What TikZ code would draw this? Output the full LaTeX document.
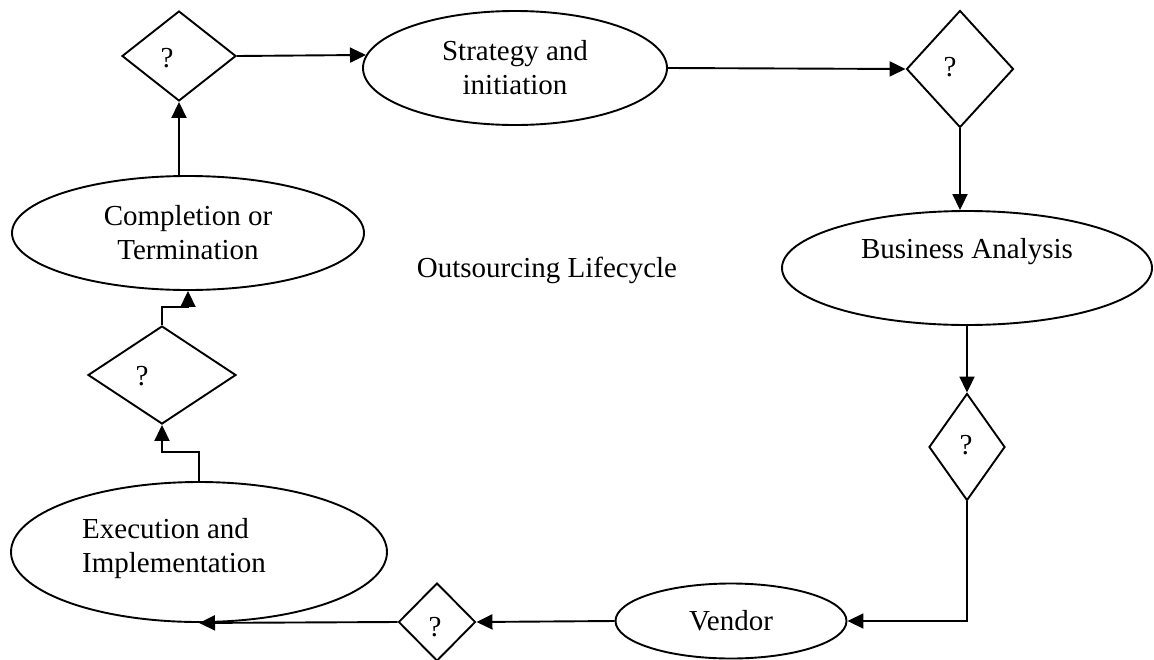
\documentclass[tikz,border=0pt]{standalone}
\usepackage{fontspec}
\setmainfont{Liberation Serif}
\usetikzlibrary{shapes.geometric,arrows.meta,calc}
\begin{document}
\begin{tikzpicture}[x=1pt,y=-1pt,
  every node/.style={font=\fontsize{29}{34}\selectfont},
  ell/.style={draw,ellipse,line width=1.9pt,inner sep=0pt,align=center},
  dia/.style={draw,diamond,line width=1.9pt,inner sep=0pt},
  qmark/.style={inner sep=0pt},
  arr/.style={line width=1.9pt,-{Triangle[length=16pt,width=15pt]}}
]
\useasboundingbox (0,0) rectangle (1154,659);
% ellipses
\node[ell,minimum width=304pt,minimum height=114pt] (s) at (515,68) {Strategy and\\initiation};
\node[ell,minimum width=370pt,minimum height=114pt] (b) at (967,268) {};
\node[inner sep=0pt] (bt) at (967,252) {Business Analysis};
\node[ell,minimum width=231pt,minimum height=75pt] (v) at (731,621) {Vendor};
\node[ell,minimum width=376pt,minimum height=140pt] (e) at (199,552) {};
\node[inner sep=0pt,align=left,anchor=west] (et) at (82,549) {Execution and\\Implementation};
\node[ell,minimum width=352pt,minimum height=114pt] (c) at (188,233) {Completion or\\Termination};
% diamonds
\node[dia,minimum width=114pt,minimum height=90pt] (d1) at (179,56) {};
\node[dia,minimum width=107pt,minimum height=117pt] (d2) at (960,69) {};
\node[dia,minimum width=76pt,minimum height=107pt] (d3) at (967,447) {};
\node[dia,minimum width=77pt,minimum height=78pt] (d4) at (437,622) {};
\node[dia,minimum width=148pt,minimum height=98pt] (d5) at (162,375) {};
\node[qmark] (q1) at (167,58) {?};
\node[qmark] (q2) at (950,67) {?};
\node[qmark] (q3) at (966,445) {?};
\node[qmark] (q4) at (435,627) {?};
\node[qmark] (q5) at (142,376) {?};
% centre label
\node[inner sep=0pt] (title) at (547,270) {Outsourcing Lifecycle};
% connectors
\draw[arr] (d1.east) -- (s.175);
\draw[arr] (s.east) -- (d2.west);
\draw[arr] (d2.south) -- (d2.south |- b.north);
\draw[arr] (b.south) -- (d3.north);
\draw[arr] (d3.south) |- (v.east);
\draw[arr] (v.west) -- (d4.east);
\draw[arr] (d4.west) -- (e.south);
\draw[arr] (e.north) -- ++(0,-29) -| (d5.south);
\draw[arr] (d5.north) -- ++(0,-18) -| (c.south);
\draw[arr] (d1.south |- c.north) -- (d1.south);
\end{tikzpicture}
\end{document}
